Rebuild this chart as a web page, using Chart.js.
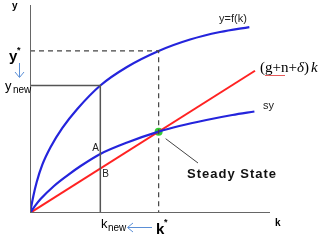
<!DOCTYPE html>
<html>
<head>
<meta charset="utf-8">
<script src="https://cdn.jsdelivr.net/npm/chart.js@4.4.0/dist/chart.umd.min.js"></script>
<style>
  html, body { margin: 0; padding: 0; background: #fff; }
  canvas { display: block; }
</style>
</head>
<body>
<canvas id="chart" width="329" height="242"></canvas>
<script>
// values (k and y on a 0-100 scale)
const kProd = [0, 1.4, 2.8, 5.1, 8.6, 13.5, 19.7, 29.3, 40.4, 53.6, 66.7, 79.2, 91.4];
const yProd = [0, 8.2, 14.9, 23.1, 31.7, 40.9, 50, 61.3, 70.2, 77.9, 83.4, 87, 89.4];

const kSave = [0, 2.1, 4.4, 10, 15.5, 21.1, 29.3, 40.5, 53.6, 62.2, 73.5, 84.3, 93.5];
const ySave = [0, 3.4, 6.7, 13, 18, 22.6, 28.4, 33.9, 39.1, 41.8, 44.7, 47.1, 48.8];

const kBreak = [0, 93.75];
const yBreak = [0, 68.4];

const kStar = 53.6, yStar = 77.9, sStar = 39.1;
const kNew = 29.3, yNew = 61.3, sNew = 28.4, bNew = 21.4;

const pts = (xs, ys) => xs.map((x, i) => ({ x: x, y: ys[i] }));

const textPlugin = {
  id: 'labels',
  afterDatasetsDraw(chart) {
    const ctx = chart.ctx;
    const xs = chart.scales.x, ys = chart.scales.y;
    ctx.save();
    ctx.textBaseline = 'alphabetic';
    const txt = (s, x, y, font, color, align) => {
      ctx.font = font;
      ctx.fillStyle = color || '#000';
      ctx.textAlign = align || 'left';
      ctx.fillText(s, x, y);
    };

    // axis names
    txt('y', 12, 9, 'bold 10px "Liberation Sans"');
    txt('k', 275, 226, 'bold 10px "Liberation Sans"');

    // y* and ynew
    txt('y', 9, 61, 'bold 15px "Liberation Sans"');
    txt('*', 17, 53, 'bold 9px "Liberation Sans"');
    txt('y', 5, 90, '13px "Liberation Sans"');
    txt('new', 13, 93, '10px "Liberation Sans"');

    // k* and knew
    txt('k', 156, 234, 'bold 15px "Liberation Sans"');
    txt('*', 164, 225, 'bold 9px "Liberation Sans"');
    txt('k', 101, 228, '13px "Liberation Sans"');
    txt('new', 108, 231, '10px "Liberation Sans"');

    // blue arrows
    ctx.strokeStyle = '#5b8fd6';
    ctx.lineWidth = 1;
    ctx.beginPath();
    ctx.moveTo(19.5, 63); ctx.lineTo(19.5, 77);
    ctx.moveTo(15, 72); ctx.lineTo(19.5, 77.5); ctx.lineTo(24, 72);
    ctx.moveTo(152, 227.5); ctx.lineTo(128, 227.5);
    ctx.moveTo(133, 223); ctx.lineTo(127.5, 227.5); ctx.lineTo(133, 232);
    ctx.stroke();

    // curve labels
    txt('y=f(k)', 233, 22, '11px "Liberation Sans"', '#222', 'center');
    txt('sy', 263, 109, '11px "Liberation Sans"', '#222');
    ctx.font = '15px "Liberation Serif"';
    ctx.fillStyle = '#000';
    ctx.textAlign = 'left';
    ctx.fillText('(g+n+', 260, 72);
    let w = ctx.measureText('(g+n+').width;
    ctx.font = 'italic 15px "Liberation Serif"';
    ctx.fillText('\u03B4', 260 + w, 72);
    w += ctx.measureText('\u03B4').width;
    ctx.font = '15px "Liberation Serif"';
    ctx.fillText(')', 260 + w, 72);
    w += ctx.measureText(')').width + 2;
    ctx.font = 'italic 15px "Liberation Serif"';
    ctx.fillText('k', 260 + w, 72);

    // spell-check squiggle under g+n
    ctx.strokeStyle = '#e03030';
    ctx.lineWidth = 0.8;
    ctx.beginPath();
    for (let i = 0; i <= 20; i++) {
      const px = 265 + i;
      const py = 75 + (i % 2 ? 1 : 0);
      if (i === 0) ctx.moveTo(px, py); else ctx.lineTo(px, py);
    }
    ctx.stroke();

    // A and B
    txt('A', xs.getPixelForValue(kNew) - 8, ys.getPixelForValue(sNew) - 3, '10px "Liberation Sans"', '#222');
    txt('B', xs.getPixelForValue(kNew) + 2, ys.getPixelForValue(bNew) + 9, '10px "Liberation Sans"', '#222');

    // steady state
    ctx.strokeStyle = '#444';
    ctx.lineWidth = 1;
    ctx.beginPath();
    ctx.moveTo(xs.getPixelForValue(kStar) + 7, ys.getPixelForValue(sStar) + 7);
    ctx.lineTo(198, 163);
    ctx.stroke();
    ctx.font = 'bold 13px "Liberation Sans"';
    ctx.fillStyle = '#111';
    ctx.letterSpacing = '1px';
    ctx.fillText('Steady State', 187, 178);
    ctx.restore();
  }
};

new Chart(document.getElementById('chart'), {
  type: 'scatter',
  data: {
    datasets: [
      { data: pts([0, 0], [0, 100]), showLine: true, borderColor: '#666', borderWidth: 2, pointRadius: 0 },
      { data: pts([0, 100], [0, 0]), showLine: true, borderColor: '#666', borderWidth: 2, pointRadius: 0 },
      { data: pts([0, kStar, kStar], [yStar, yStar, 0]), showLine: true, borderColor: '#444',
        borderWidth: 1.2, borderDash: [5, 4], pointRadius: 0 },
      { data: pts([0, kNew, kNew], [yNew, yNew, 0]), showLine: true, borderColor: '#555',
        borderWidth: 1.5, pointRadius: 0 },
      { data: pts(kProd, yProd), showLine: true, borderColor: '#2424dc', borderWidth: 2.2,
        pointRadius: 0, cubicInterpolationMode: 'monotone' },
      { data: pts(kSave, ySave), showLine: true, borderColor: '#2424dc', borderWidth: 2.2,
        pointRadius: 0, cubicInterpolationMode: 'monotone' },
      { data: pts(kBreak, yBreak), showLine: true, borderColor: '#ff2222', borderWidth: 2, pointRadius: 0 },
      { data: [{ x: kStar, y: sStar }], pointRadius: 4, pointBackgroundColor: '#33cc33',
        pointBorderWidth: 0 }
    ]
  },
  options: {
    responsive: false,
    animation: false,
    layout: { padding: { left: 30, right: 59, top: 5, bottom: 29 } },
    plugins: { legend: { display: false }, tooltip: { enabled: false } },
    scales: {
      x: { type: 'linear', min: 0, max: 100, display: false },
      y: { type: 'linear', min: 0, max: 100, display: false }
    }
  },
  plugins: [textPlugin]
});
</script>
</body>
</html>
